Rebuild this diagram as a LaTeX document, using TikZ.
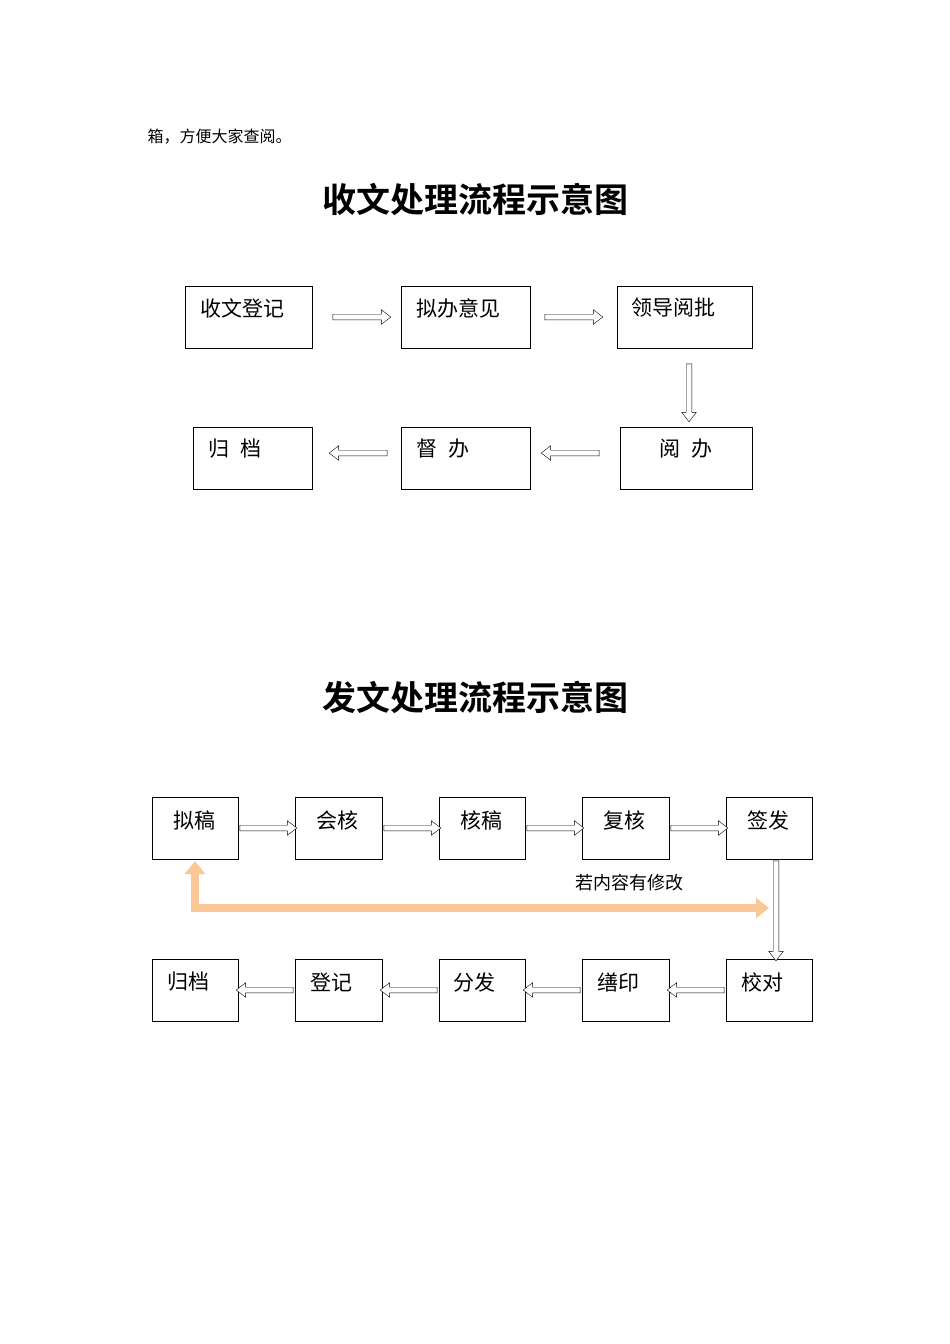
\documentclass[tikz,border=0pt]{standalone}
\usepackage{fontspec}
\newfontfamily\cjk{Noto Sans CJK SC}
\newfontfamily\cjkb{Noto Sans CJK SC Bold}
\usetikzlibrary{shapes.arrows,arrows.meta}
\definecolor{orng}{RGB}{250,200,150}
\tikzset{
 box/.style={draw,thick,anchor=north west,inner sep=0pt},
 lbl/.style={font=\cjk\fontsize{21}{21}\selectfont,anchor=west},
 barrow/.style={single arrow,draw,fill=white,inner sep=2.6pt,single arrow head extend=4.5pt,minimum width=0pt,single arrow tip angle=75,thin},
}
\begin{document}
\begin{tikzpicture}[x=1pt,y=-1pt]
\useasboundingbox (0,0) rectangle (950,1344);
\node[font=\cjk\fontsize{16}{16}\selectfont,anchor=west] (intro) at (144,137) {箱，方便大家查阅。};
\node[font=\cjkb\fontsize{34}{34}\selectfont] (t1) at (475,199) {收文处理流程示意图};
\node[font=\cjkb\fontsize{34}{34}\selectfont] (t2) at (475,697) {发文处理流程示意图};
% diagram 1
\node[box,minimum width=127,minimum height=62] (a1) at (185,286) {};
\node[box,minimum width=129,minimum height=62] (a2) at (401,286) {};
\node[box,minimum width=135,minimum height=62] (a3) at (617,286) {};
\node[box,minimum width=119,minimum height=62] (a6) at (193,427) {};
\node[box,minimum width=129,minimum height=62] (a5) at (401,427) {};
\node[box,minimum width=132,minimum height=62] (a4) at (620,427) {};
\node[lbl] at (197,308) {收文登记};
\node[lbl] at (413,308) {拟办意见};
\node[lbl] at (628,308) {领导阅批};
\node[lbl] at (205,449) {归\hspace{0.5em}档};
\node[lbl] at (413,449) {督\hspace{0.5em}办};
\node[lbl] at (656,449) {阅\hspace{0.5em}办};
\node[barrow,minimum height=58] at (360,317) {};
\node[barrow,minimum height=58] at (572,317) {};
\node[barrow,minimum height=58,shape border rotate=0,rotate=-90] at (689,391) {};
\node[barrow,minimum height=58,rotate=180] at (360,453) {};
\node[barrow,minimum height=58,rotate=180] at (572,453) {};
% diagram 2
\foreach \n/\x/\w in {b1/152/86,b2/295/87,b3/439/86,b4/582/87,b5/726/86}{
  \node[box,minimum width=\w,minimum height=62] (\n) at (\x,797) {};}
\foreach \n/\x/\w in {c5/152/86,c4/295/87,c3/439/86,c2/582/87,c1/726/86}{
  \node[box,minimum width=\w,minimum height=62] (\n) at (\x,959) {};}
\node[lbl] at (170,820) {拟稿};
\node[lbl] at (313,820) {会核};
\node[lbl] at (457,820) {核稿};
\node[lbl] at (600,820) {复核};
\node[lbl] at (744,820) {签发};
\node[lbl] at (164,982) {归档};
\node[lbl] at (307,982) {登记};
\node[lbl] at (450,982) {分发};
\node[lbl] at (594,982) {缮印};
\node[lbl] at (738,982) {校对};
\foreach \x in {238,382,525,669}{
  \node[barrow,minimum height=57] at (\x+28.5,828) {};}
\foreach \x in {238,382,525,669}{
  \node[barrow,minimum height=57,rotate=180] at (\x+28.5,990) {};}
\node[barrow,minimum height=100,rotate=-90] at (776,909) {};
\draw[orng,line width=8pt,{Triangle[length=13pt,width=20pt]}-{Triangle[length=13pt,width=20pt]}] (195,861) -- (195,908) -- (769,908);
\node[font=\cjk\fontsize{18}{18}\selectfont] (note) at (629,883) {若内容有修改};
\end{tikzpicture}
\end{document}
